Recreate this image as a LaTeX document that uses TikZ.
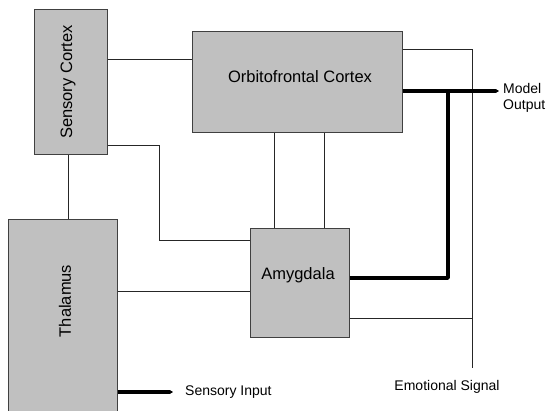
\documentclass[tikz,border=0pt]{standalone}
\usepackage{fontspec}
\setmainfont{Liberation Sans}
\usetikzlibrary{arrows.meta}
\definecolor{boxgray}{HTML}{C0C0C0}
\definecolor{edgegray}{HTML}{404040}
\tikzset{
  region/.style={draw=edgegray, fill=boxgray, line width=1pt, inner sep=0pt,
    font=\fontsize{16.5}{18}\selectfont},
  link/.style={line width=1pt, draw=black!85},
  sigline/.style={line width=3.5pt, line join=round, draw=black},
  tag/.style={font=\fontsize{14}{16.5}\selectfont, inner sep=0pt, align=left}
}
\begin{document}
\begin{tikzpicture}[x=1pt, y=-1pt]
    \useasboundingbox [fill=white] (0,0) rectangle (548,411);
    \node [region, minimum width=73pt, minimum height=145pt] (sc) at (70.5,82.5) {};
    \node [rotate=90, font=\fontsize{16.5}{18}\selectfont] (sclab) at (68,82) {Sensory Cortex};
    \node [region, minimum width=210pt, minimum height=101pt] (ofc) at (297,82.5) {};
    \node [font=\fontsize{16.5}{18}\selectfont] (ofclab) at (300,77) {Orbitofrontal Cortex};
    \node [region, minimum width=109pt, minimum height=196pt] (th) at (62.5,318) {};
    \node [rotate=90, font=\fontsize{16.5}{18}\selectfont] (thlab) at (65,301) {Thalamus};
    \node [region, minimum width=99pt, minimum height=108pt] (amg) at (299.5,283) {};
    \node [font=\fontsize{16.5}{18}\selectfont] (amglab) at (298,275) {Amygdala};
    \coordinate (es) at (472,368);
    \coordinate (mo) at (499,91);
    \coordinate (si) at (173,392);
    \node [tag, anchor=north west] (molab) at (503,83) {Model\\Output};
    \node [tag, anchor=west] (silab) at (185,392) {Sensory Input};
    \node [tag] (eslab) at (447,387) {Emotional Signal};
    % thin links
    \draw [link] (sc.east |- 0,60) -- (ofc.west |- 0,60);
    \draw [link] (sc.east |- 0,146) -| (159,241) -- (amg.west |- 0,241);
    \draw [link] (sc.south -| 68,0) -- (th.north -| 68,0);
    \draw [link] (th.east |- 0,291) -- (amg.west |- 0,291);
    \draw [link] (ofc.south -| 274,0) -- (amg.north -| 274,0);
    \draw [link] (ofc.south -| 324,0) -- (amg.north -| 324,0);
    \draw [link] (ofc.east |- 0,50) -| (es);
    \draw [link] (amg.east |- 0,318) -- (es |- 0,318);
    % thick signals
    \draw [sigline, -{Triangle[length=3pt,width=3.5pt]}] (ofc.east |- mo) -- (mo);
    \draw [sigline] (amg.east |- 0,278) -| (448,91);
    \draw [sigline, -{Triangle[length=3pt,width=3.5pt]}] (th.east |- si) -- (si);
\end{tikzpicture}
\end{document}
